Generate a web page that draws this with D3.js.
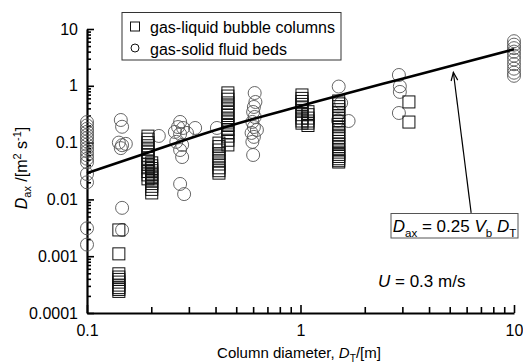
<!DOCTYPE html>
<html><head><meta charset="utf-8">
<script src="https://cdn.jsdelivr.net/npm/d3@7"></script>
<style>
body{margin:0;background:#fff}
svg{display:block}
text{font-family:"Liberation Sans",Arial,Helvetica,sans-serif;fill:#000}
</style>
</head><body>
<svg id="c" width="523" height="363"></svg>
<script>
// ---------- data ----------
const xTickValues = [0.1, 1, 10];
const xTickLabels = ["0.1", "1", "10"];
const yTickValues = [0.0001, 0.001, 0.01, 0.1, 1, 10];
const yTickLabels = ["0.0001", "0.001", "0.01", "0.1", "1", "10"];

const seriesNames = ["gas-liquid bubble columns", "gas-solid fluid beds"];

// gas-liquid bubble columns: [D_T (m), D_ax (m2/s)]
const bubbleColumns = [
  [0.141,0.0029],[0.141,0.0011],[0.141,0.00049],[0.141,0.00043],[0.141,0.00039],[0.141,0.00035],
  [0.141,0.00031],[0.141,0.00028],[0.141,0.00026],[0.141,0.00024],
  [0.193,0.13],[0.193,0.115],[0.193,0.1],[0.193,0.088],[0.193,0.077],[0.193,0.068],[0.193,0.06],
  [0.193,0.053],[0.193,0.047],[0.193,0.041],[0.193,0.036],[0.193,0.031],[0.193,0.027],[0.193,0.023],
  [0.201,0.044],[0.201,0.039],[0.201,0.035],[0.201,0.032],[0.201,0.029],[0.201,0.027],[0.201,0.025],
  [0.201,0.023],[0.201,0.021],[0.201,0.019],[0.201,0.017],[0.201,0.015],[0.201,0.013],
  [0.457,0.75],[0.457,0.66],[0.457,0.58],[0.457,0.5],[0.457,0.44],[0.457,0.39],[0.457,0.34],[0.457,0.3],
  [0.457,0.26],[0.457,0.23],[0.457,0.2],[0.457,0.17],[0.457,0.15],[0.457,0.13],[0.457,0.11],[0.457,0.091],
  [0.415,0.098],[0.415,0.085],[0.415,0.074],[0.415,0.064],[0.415,0.056],[0.415,0.048],[0.415,0.042],
  [0.415,0.036],[0.415,0.032],[0.415,0.029],
  [1.016,0.69],[1.016,0.6],[1.016,0.53],[1.016,0.47],[1.016,0.41],[1.016,0.36],[1.016,0.31],[1.016,0.27],
  [1.016,0.24],[1.016,0.22],
  [1.084,0.35],[1.084,0.31],[1.084,0.27],[1.084,0.24],[1.084,0.22],[1.084,0.2],
  [1.51,0.54],[1.51,0.48],[1.51,0.43],[1.51,0.38],[1.51,0.34],[1.51,0.3],[1.51,0.27],[1.51,0.24],
  [1.51,0.21],[1.51,0.19],[1.51,0.17],[1.51,0.15],[1.51,0.135],[1.51,0.12],[1.51,0.105],[1.51,0.095],
  [1.51,0.085],[1.51,0.076],[1.51,0.068],[1.51,0.062],[1.51,0.057],[1.51,0.052],[1.51,0.048],[1.51,0.0455],
  [3.22,0.52],[3.22,0.23]
];

// gas-solid fluid beds: [D_T (m), D_ax (m2/s)]
const fluidBeds = [
  [0.1,0.23],[0.1,0.2],[0.1,0.175],[0.1,0.155],[0.1,0.135],[0.1,0.12],[0.1,0.105],[0.1,0.092],
  [0.1,0.08],[0.1,0.07],[0.1,0.06],[0.1,0.052],[0.1,0.045],[0.1,0.028],[0.1,0.02],[0.1,0.0031],[0.1,0.0016],
  [0.144,0.25],[0.146,0.19],[0.141,0.1],[0.146,0.09],[0.152,0.095],[0.144,0.08],[0.146,0.0071],[0.146,0.0029],
  [0.217,0.131],
  [0.273,0.231],[0.267,0.188],[0.282,0.181],[0.258,0.154],[0.273,0.142],[0.294,0.148],[0.321,0.181],
  [0.262,0.103],[0.279,0.091],[0.273,0.074],[0.279,0.0557],[0.273,0.0187],[0.285,0.0124],
  [0.406,0.181],
  [0.61,0.746],[0.615,0.519],[0.605,0.424],[0.6,0.346],[0.61,0.283],[0.595,0.231],[0.605,0.188],
  [0.625,0.167],[0.59,0.148],[0.605,0.126],[0.595,0.103],[0.6,0.0605],
  [1.51,0.97],[1.55,0.5],[1.68,0.24],[1.5,0.245],
  [2.89,1.55],[2.92,0.98],[2.92,0.78],[2.89,0.332],
  [10,6.1],[10,5.3],[10,4.6],[10,4.0],[10,3.4],[10,2.9],[10,2.4],[10,2.0],[10,1.7],[10,1.5]
];

// correlation D_ax = 0.25 Vb D_T
const correlation = [
  [0.1,0.029],[0.2,0.07],[0.35,0.142],[0.6,0.26],[1,0.44],[1.5,0.67],[3,1.33],[5,2.2],[10,4.4]
];
const arrowTip = [5.2, 1.73];
const arrowTail = [6.3, 0.0058];

// ---------- drawing ----------
const svg = d3.select("#c");
const x = d3.scaleLog().domain([0.1, 10]).range([87, 514]);
const y = d3.scaleLog().domain([0.0001, 10]).range([313, 29]);

function minorTicks(dom){
  const out = [];
  for (let e = Math.round(Math.log10(dom[0])); e < Math.round(Math.log10(dom[1])); e++)
    for (let k = 2; k <= 9; k++) out.push(k * Math.pow(10, e));
  return out;
}

// y axis
const gy = svg.append("g").attr("transform","translate(87,0)");
gy.call(d3.axisLeft(y).tickValues(yTickValues).tickFormat((d,i)=>yTickLabels[i])
  .tickSize(-7).tickPadding(9).tickSizeOuter(0));
const gym = svg.append("g").attr("transform","translate(87,0)");
gym.call(d3.axisLeft(y).tickValues(minorTicks(y.domain())).tickFormat("").tickSize(-4).tickSizeOuter(0));
gym.select(".domain").remove();

// x axis
const gx = svg.append("g").attr("transform","translate(0,313)");
gx.call(d3.axisBottom(x).tickValues(xTickValues).tickFormat((d,i)=>xTickLabels[i])
  .tickSize(-8).tickPadding(12).tickSizeOuter(0));
const gxm = svg.append("g").attr("transform","translate(0,313)");
gxm.call(d3.axisBottom(x).tickValues(minorTicks(x.domain())).tickFormat("").tickSize(-6).tickSizeOuter(0));
gxm.select(".domain").remove();

svg.selectAll(".domain").attr("stroke","#000").attr("stroke-width",2.2);
svg.selectAll(".tick line").attr("stroke","#000").attr("stroke-width",1.6);
svg.selectAll(".tick text").attr("font-size",16).attr("font-family",'"Liberation Sans",Arial,sans-serif').attr("fill","#000");

// circles
svg.append("g").selectAll("circle").data(fluidBeds).join("circle")
  .attr("cx",d=>x(d[0])).attr("cy",d=>y(d[1])).attr("r",6.5)
  .attr("fill","none").attr("stroke","#555").attr("stroke-width",0.9);

// squares
svg.append("g").selectAll("rect").data(bubbleColumns).join("rect")
  .attr("x",d=>x(d[0])-6).attr("y",d=>y(d[1])-6).attr("width",12).attr("height",12)
  .attr("fill","none").attr("stroke","#111").attr("stroke-width",1);

// correlation line
svg.append("path").datum(correlation)
  .attr("d", d3.line().x(d=>x(d[0])).y(d=>y(d[1])).curve(d3.curveMonotoneX))
  .attr("fill","none").attr("stroke","#000").attr("stroke-width",2.6);

// arrow
const ax1 = x(arrowTail[0]), ay1 = y(arrowTail[1]), ax2 = x(arrowTip[0]), ay2 = y(arrowTip[1]);
svg.append("line").attr("x1",ax1).attr("y1",ay1).attr("x2",ax2).attr("y2",ay2)
  .attr("stroke","#000").attr("stroke-width",1.2);
const ang = Math.atan2(ay1-ay2, ax1-ax2);
const hl = 9, ha = 0.38;
svg.append("path")
  .attr("d",`M${ax2+hl*Math.cos(ang-ha)},${ay2+hl*Math.sin(ang-ha)}L${ax2},${ay2}L${ax2+hl*Math.cos(ang+ha)},${ay2+hl*Math.sin(ang+ha)}`)
  .attr("fill","none").attr("stroke","#000").attr("stroke-width",1.2);

// rich text helper
function rich(sel, parts, size){
  parts.forEach(p=>{
    const t = sel.append("tspan").text(p.t);
    if (p.i) t.attr("font-style","italic");
    if (p.sub){ t.attr("font-size", size*0.68).attr("dy", size*0.28); }
    else if (p.sup){ t.attr("font-size", size*0.68).attr("dy", -size*0.38); }
    if (p.back) t.attr("dy", p.back);
  });
}
function richSeq(sel, parts, size){
  // handles returning baseline after sub/sup
  let shift = 0;
  parts.forEach(p=>{
    const t = sel.append("tspan").text(p.t);
    if (p.i) t.attr("font-style","italic");
    let target = 0, fs = size;
    if (p.sub){ target = size*0.28; fs = size*0.68; }
    if (p.sup){ target = -size*0.4; fs = size*0.68; }
    t.attr("font-size", fs).attr("dy", target - shift);
    shift = target;
  });
}

// y title
const yt = svg.append("text").attr("transform","translate(27,168) rotate(-90)")
  .attr("text-anchor","middle").attr("font-size",16);
richSeq(yt, [{t:"D",i:1},{t:"ax",sub:1},{t:" /[m"},{t:"2",sup:1},{t:" s"},{t:"-1",sup:1},{t:"]"}], 16);

// x title
const xt = svg.append("text").attr("x",299).attr("y",358).attr("text-anchor","middle").attr("font-size",15);
richSeq(xt, [{t:"Column diameter, "},{t:"D",i:1},{t:"T",sub:1},{t:"/[m]"}], 15);

// legend
svg.append("rect").attr("x",122).attr("y",12.5).attr("width",219).attr("height",47.5)
  .attr("fill","#fff").attr("stroke","#333").attr("stroke-width",1);
svg.append("rect").attr("x",130.5).attr("y",22).attr("width",9).attr("height",9)
  .attr("fill","none").attr("stroke","#111").attr("stroke-width",1);
svg.append("circle").attr("cx",135).attr("cy",48).attr("r",4)
  .attr("fill","none").attr("stroke","#111").attr("stroke-width",1);
svg.append("text").attr("x",150).attr("y",33).attr("font-size",16).text(seriesNames[0]);
svg.append("text").attr("x",150).attr("y",55).attr("font-size",16).text(seriesNames[1]);

// U annotation
const ut = svg.append("text").attr("x",378).attr("y",287).attr("font-size",17);
richSeq(ut, [{t:"U",i:1},{t:" = 0.3 m/s"}], 17);

// formula box
svg.append("rect").attr("x",391).attr("y",213.5).attr("width",127).attr("height",24.5)
  .attr("fill","#fff").attr("stroke","#555").attr("stroke-width",1);
const ft = svg.append("text").attr("x",454.5).attr("y",232).attr("text-anchor","middle").attr("font-size",17);
richSeq(ft, [{t:"D",i:1},{t:"ax",sub:1},{t:" = 0.25 "},{t:"V",i:1},{t:"b",sub:1},{t:" "},{t:"D",i:1},{t:"T",sub:1}], 17);
</script>
</body></html>
